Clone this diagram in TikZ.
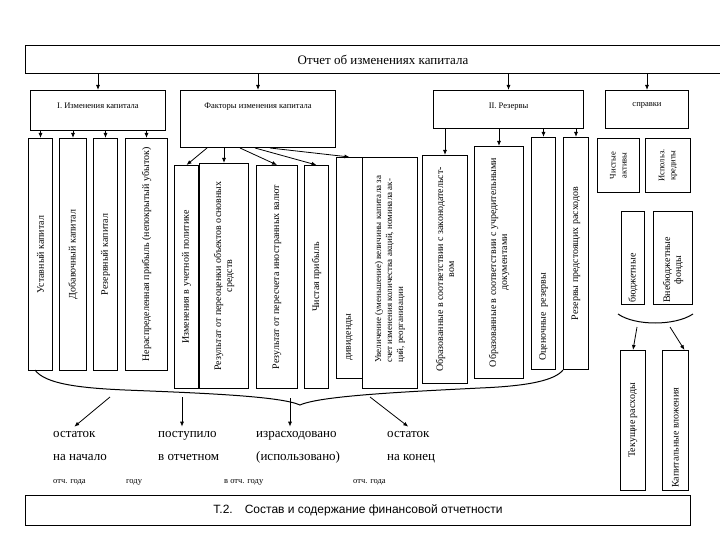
\documentclass[tikz,border=0pt]{standalone}
\usepackage{fontspec}
\setmainfont{Liberation Serif}
\newfontfamily\arialfont{Liberation Sans}
\usetikzlibrary{arrows.meta,positioning,calc}

\begin{document}
\begin{tikzpicture}[x=1pt,y=-1pt,>={Latex[length=5pt,width=4pt]},
  box/.style={draw,line width=1pt,anchor=north west,inner sep=0pt},
  vtext/.style={rotate=90,align=center,inner sep=0pt,font=\fontsize{10}{11}\selectfont},
  stext/.style={rotate=90,align=center,inner sep=0pt,font=\fontsize{8.5}{11}\selectfont},
  hlbl/.style={font=\fontsize{8.5}{10}\selectfont},
  big/.style={anchor=base west,inner sep=0pt,font=\fontsize{13}{14}\selectfont},
  small/.style={anchor=base west,inner sep=0pt,font=\fontsize{8.5}{10}\selectfont},
  arr/.style={->,line width=0.8pt}]
  \useasboundingbox (0,0) rectangle (720,540);

  % head
  \node[box,minimum width=715pt,minimum height=28pt,font=\fontsize{13}{14}\selectfont] (otch) at (25,45) {Отчет об изменениях капитала};

  % second row
  \node[box,minimum width=135pt,minimum height=40pt,label={[hlbl,anchor=north,yshift=-9pt]north:I. Изменения капитала}] (izm) at (30,90) {};
  \node[box,minimum width=155pt,minimum height=57pt,label={[hlbl,anchor=north,yshift=-9pt]north:Факторы изменения капитала}] (fakt) at (180,90) {};
  \node[box,minimum width=150pt,minimum height=38pt,label={[hlbl,anchor=north,yshift=-9pt]north:II. Резервы}] (rez) at (433,90) {};
  \node[box,minimum width=83pt,minimum height=38pt,label={[hlbl,anchor=north,yshift=-9pt]north:справки}] (spr) at (605,90) {};
  \foreach \n in {izm,fakt,rez,spr}
    \draw[arr] (\n.north |- otch.south) -- (\n.north);

  % I. capital
  \node[box,minimum width=24pt,minimum height=232pt] (ust) at (28,138) {};
  \node[box,minimum width=27pt,minimum height=232pt] (dob) at (59,138) {};
  \node[box,minimum width=24pt,minimum height=232pt] (rezk) at (93,138) {};
  \node[box,minimum width=42pt,minimum height=232pt] (nerp) at (125,138) {};
  \foreach \n in {ust,dob,rezk,nerp}
    \draw[arr] (\n.north |- izm.south) -- (\n.north);
  \node[vtext] at (ust) {Уставный капитал};
  \node[vtext] at (dob) {Добавочный капитал};
  \node[vtext] at (rezk) {Резервный капитал};
  \node[vtext] at (nerp) {Нераспределенная прибыль (непокрытый убыток)};

  % factors
  \node[box,minimum width=24pt,minimum height=223pt] (izup) at (174,165) {};
  \node[box,minimum width=49pt,minimum height=225pt] (pere) at (199,163) {};
  \node[box,minimum width=41pt,minimum height=223pt] (valt) at (256,165) {};
  \node[box,minimum width=24pt,minimum height=223pt] (chpr) at (304,165) {};
  \node[box,minimum width=26pt,minimum height=221pt] (divd) at (336,157) {};
  \node[box,minimum width=55pt,minimum height=231pt] (uvel) at (362,157) {};
  \draw[arr] ([xshift=27pt]fakt.south west) -- (izup.north);
  \draw[arr] (fakt.south -| pere.north) -- (pere.north);
  \draw[arr] ([xshift=60pt]fakt.south west) -- (valt.north);
  \draw[arr] ([xshift=75pt]fakt.south west) -- (chpr.north);
  \draw[arr] ([xshift=90pt]fakt.south west) -- (divd.north);
  \node[vtext] at (izup) {Изменения в учетной политике};
  \node[vtext] at (pere) {Результат от переоценки объектов основных\\средств};
  \node[vtext] at (valt) {Результат от пересчета иностранных валют};
  \node[vtext] at (chpr) {Чистая прибыль};
  \node[vtext,anchor=west] at ([yshift=18pt]divd.south) {дивиденды};
  \node[vtext,anchor=west,align=left,font=\fontsize{9}{11}\selectfont] at ([yshift=26pt]uvel.south) {Увеличение (уменьшение) величины капитала за\\счет изменения количества акций, номинала ак-\\ций, реорганизации};

  % II. reserves
  \node[box,minimum width=45pt,minimum height=228pt] (zak) at (422,155) {};
  \node[box,minimum width=49pt,minimum height=232pt] (uchr) at (474,146) {};
  \node[box,minimum width=24pt,minimum height=232pt] (ocen) at (531,137) {};
  \node[box,minimum width=25pt,minimum height=232pt] (prds) at (563,137) {};
  \foreach \n in {zak,uchr,ocen,prds}
    \draw[arr] (\n.north |- rez.south) -- (\n.north);
  \node[vtext] at (zak) {Образованные в соответствии с законодательст-\\вом};
  \node[vtext] at (uchr) {Образованные в соответствии с учредительными\\документами};
  \node[vtext,anchor=west] at ([yshift=9pt]ocen.south) {Оценочные\ \ резервы};
  \node[vtext] at (prds) {Резервы предстоящих расходов};

  % references
  \node[box,minimum width=42pt,minimum height=54pt] (chak) at (597,138) {};
  \node[box,minimum width=45pt,minimum height=54pt] (ikr) at (645,138) {};
  \node[box,minimum width=23pt,minimum height=93pt] (budg) at (621,211) {};
  \node[box,minimum width=39pt,minimum height=93pt] (vnbf) at (653,211) {};
  \node[box,minimum width=25pt,minimum height=140pt] (tek) at (620,350) {};
  \node[box,minimum width=26pt,minimum height=140pt] (kap) at (662,350) {};
  \node[stext] at (chak) {Чистые\\активы};
  \node[stext] at (ikr) {Использ.\\кредиты};
  \node[vtext,anchor=west] at ([yshift=2pt]budg.south) {бюджетные};
  \node[vtext,anchor=west] at ([yshift=2pt]vnbf.south) {Внебюджетные\\фонды};
  \node[vtext] at (tek) {Текущие расходы};
  \node[vtext,anchor=west] at ([yshift=3pt]kap.south) {Капитальные вложения};

  % braces
  \draw[line width=1pt] (35,370) .. controls (45,384) and (80,388) .. (125,390)
    .. controls (200,393) and (280,396) .. (300,405)
    .. controls (320,396) and (400,392) .. (480,388)
    .. controls (530,386) and (555,380) .. (563,370);
  \draw[line width=1pt] (618,314) .. controls (635,326) and (675,326) .. (693,314);
  \coordinate (s1) at (637,327);
  \coordinate (s2) at (670,327);
  \draw[arr] (s1) -- (tek.north);
  \draw[arr] (s2) -- ([xshift=9pt]kap.north);

  % balances
  \node[big] (ost1) at (53,437) {остаток};
  \node[big] (nach) at (53,460) {на начало};
  \node[small] (og1) at (53,483) {отч. года};
  \node[small] (god1) at (126,483) {году};
  \node[big] (post) at (158,437) {поступило};
  \node[big] (votch) at (158,460) {в отчетном};
  \node[big] (izr) at (256,437) {израсходовано};
  \node[big] (ispz) at (256,460) {(использовано)};
  \node[small] (vog) at (224,483) {в отч. году};
  \node[big] (ost2) at (387,437) {остаток};
  \node[big] (konc) at (387,460) {на конец};
  \node[small] (og2) at (353,483) {отч. года};
  \coordinate (b1) at (110,397);
  \coordinate (b2) at (182,397);
  \coordinate (b3) at (290,398);
  \coordinate (b4) at (370,397);
  \draw[arr] (b1) -- ([yshift=4pt]ost1.north);
  \draw[arr] (b2) -- ([yshift=4pt]b2 |- post.north);
  \draw[arr] (b3) -- ([yshift=4pt]b3 |- izr.north);
  \draw[arr] (b4) -- ([yshift=4pt]ost2.north);

  % footer
  \node[box,minimum width=665pt,minimum height=30pt,font=\arialfont\fontsize{12}{14}\selectfont] (sost) at (25,495) {Т.2.\quad Состав и содержание финансовой отчетности};
\end{tikzpicture}
\end{document}
